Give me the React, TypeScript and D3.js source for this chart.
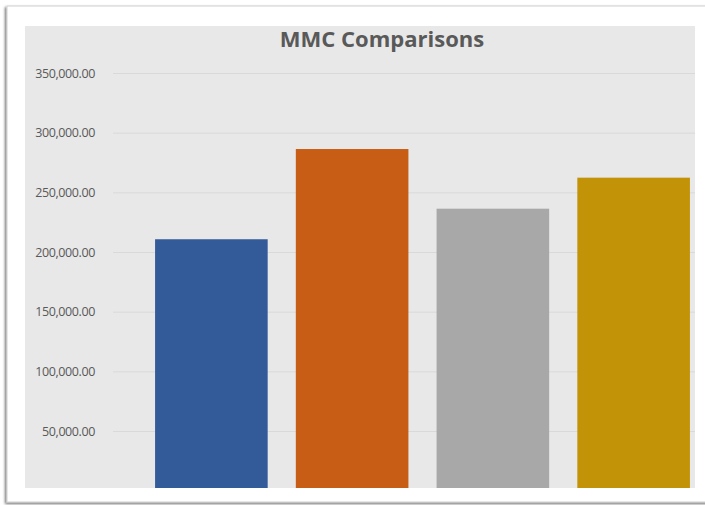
import React, { useRef, useEffect } from "react";
import * as d3 from "d3";

// values
const categories: string[] = ["A", "B", "C", "D"];
const values: number[] = [210700, 286300, 236300, 262300];
const barColors: string[] = ["#335a99", "#c85e16", "#a8a8a8", "#c29306"];
const yTicks: number[] = [50000, 100000, 150000, 200000, 250000, 300000, 350000];
const title = "MMC Comparisons";

const WIDTH = 705;
const HEIGHT = 505;

export default function App() {
  const svgRef = useRef<SVGSVGElement>(null);

  useEffect(() => {
    if (!svgRef.current) return;
    const svg = d3.select(svgRef.current);
    svg.selectAll("*").remove();

    // card with a soft shadow
    const defs = svg.append("defs");
    const filter = defs
      .append("filter")
      .attr("id", "shadow")
      .attr("x", "-5%")
      .attr("y", "-5%")
      .attr("width", "110%")
      .attr("height", "110%");
    filter
      .append("feDropShadow")
      .attr("dx", -1.5)
      .attr("dy", 1.5)
      .attr("stdDeviation", 1.2)
      .attr("flood-color", "#000")
      .attr("flood-opacity", 0.55);

    svg
      .append("rect")
      .attr("x", 7)
      .attr("y", 6)
      .attr("width", 720)
      .attr("height", 496)
      .attr("fill", "#fff")
      .attr("stroke", "#cfcfcf")
      .attr("stroke-width", 1)
      .attr("filter", "url(#shadow)");

    // plot area
    svg
      .append("rect")
      .attr("x", 25)
      .attr("y", 26)
      .attr("width", 670)
      .attr("height", 462)
      .attr("fill", "#e8e8e8");

    const x = d3
      .scaleBand<string>()
      .domain(categories)
      .range([141, 704])
      .paddingInner(0.2)
      .paddingOuter(0.1);

    const y = d3.scaleLinear().domain([0, 350000]).range([490.7, 73]);

    // gridlines + labels via axis
    const axis = d3
      .axisLeft(y)
      .tickValues(yTicks)
      .tickSize(-(695 - 113))
      .tickPadding(18)
      .tickFormat((d) => d3.format(",.2f")(d as number));

    const gAxis = svg
      .append("g")
      .attr("transform", "translate(113,0)")
      .call(axis);
    gAxis.select(".domain").remove();
    gAxis
      .selectAll(".tick line")
      .attr("stroke", "#d9d9d9")
      .attr("stroke-width", 1);
    gAxis
      .selectAll(".tick text")
      .attr("fill", "#595959")
      .attr("font-size", "12.5px")
      .attr("font-family", "'Open Sans', sans-serif")
      .attr("letter-spacing", "-0.4px");

    // bars, clipped to the plot area bottom
    svg
      .append("g")
      .selectAll("rect")
      .data(values)
      .join("rect")
      .attr("x", (_, i) => x(categories[i]) as number)
      .attr("width", x.bandwidth())
      .attr("y", (d) => y(d))
      .attr("height", (d) => 488 - y(d))
      .attr("fill", (_, i) => barColors[i]);

    svg
      .append("text")
      .attr("x", 382)
      .attr("y", 47)
      .attr("text-anchor", "middle")
      .attr("font-family", "'Open Sans', sans-serif")
      .attr("font-weight", "bold")
      .attr("font-size", "22px")
      .attr("fill", "#595959")
      .text(title);
  }, []);

  return (
    <div style={{ position: "absolute", left: 0, top: 0 }}>
      <svg ref={svgRef} width={WIDTH} height={HEIGHT} style={{ display: "block" }} />
    </div>
  );
}
